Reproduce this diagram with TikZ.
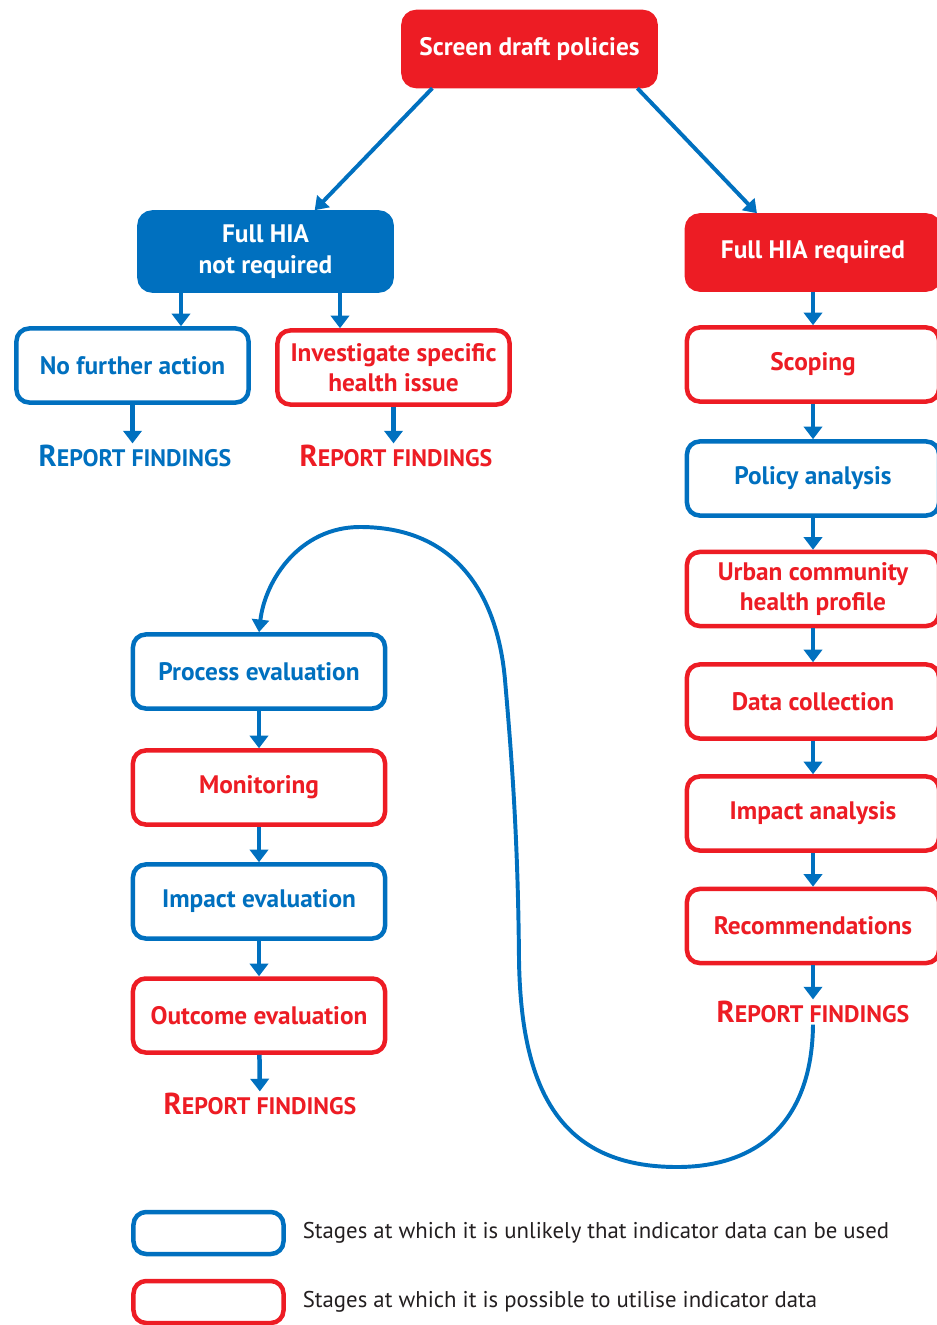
\documentclass[tikz,border=0pt]{standalone}
\usepackage{fontspec}
\setmainfont{PT Sans}
\usepackage{tikz}
\usetikzlibrary{calc,positioning,arrows.meta}
\definecolor{hblue}{HTML}{0070BF}
\definecolor{hred}{HTML}{ED1C24}
\definecolor{ink}{HTML}{231F20}
\tikzset{
  box/.style={rounded corners=9pt, line width=3.2pt, minimum width=6.3cm, minimum height=1.85cm, align=center, inner sep=2pt, font=\fontsize{18}{21.5}\selectfont\bfseries},
  bbox/.style={box, draw=hblue, fill=white, text=hblue},
  rbox/.style={box, draw=hred, fill=white, text=hred},
  bfill/.style={box, draw=hblue, fill=hblue, text=white},
  rfill/.style={box, draw=hred, fill=hred, text=white},
  arr/.style={draw=hblue, line width=3.2pt, -{Triangle[width=13pt,length=9pt]}},
  darr/.style={draw=hblue, line width=2.8pt, -{Triangle[width=12pt,length=9pt]}},
  rep/.style={inner sep=1pt, font=\fontsize{17}{20}\selectfont\bfseries},
  leg/.style={inner sep=0pt, text=ink, font=\fontsize{16.2}{19}\selectfont}
}
\newcommand{\repf}{{\fontsize{21.5}{22}\selectfont R}EPORT FINDINGS}

\begin{document}
\begin{tikzpicture}[x=0.025cm, y=-0.025cm]
  \useasboundingbox (0,0) rectangle (936,1325);

  % top
  \node[rfill] (scr) at (529.5,49) {Screen draft policies};
  \node[bfill, minimum height=1.95cm] (nhr) at (265.5,251.5) {Full HIA\\not required};
  \node[rfill] (hr) at (813,252.5) {Full HIA required};
  \draw[darr] (scr.202) -- (nhr.40);
  \draw[darr] (scr.-20) -- (hr.145);

  % left branch
  \node[bbox, minimum width=5.8cm] (nfa) at (132.5,365.5) {No further action};
  \node[rbox, minimum width=5.8cm] (ish) at (393.5,367.5) {Investigate specific\\health issue};
  \node[rep, text=hblue] (rf1) at (135,456) {\repf};
  \node[rep, text=hred] (rf2) at (396,456) {\repf};
  \coordinate (kl) at (181,0);
  \coordinate (kr) at (340,0);
  \draw[arr] (nhr.south -| kl) -- (nfa.north -| kl);
  \draw[arr] (nhr.south -| kr) -- (ish.north -| kr);
  \draw[arr] (nfa.south) -- (nfa.south |- rf1.north);
  \draw[arr] (ish.south) -- (ish.south |- rf2.north);

  % full HIA column
  \node[rbox] (sco) at (813,364.5) {Scoping};
  \node[bbox] (pa) at (813,478.5) {Policy analysis};
  \node[rbox] (uch) at (813,589) {Urban community\\health profile};
  \node[rbox] (dc) at (813,701.5) {Data collection};
  \node[rbox] (ia) at (813,813.5) {Impact analysis};
  \node[rbox] (rec) at (813,926) {Recommendations};
  \node[rep, text=hred] (rf3) at (813,1012) {\repf};
  \foreach \a/\b in {hr/sco, sco/pa, pa/uch, uch/dc, dc/ia, ia/rec, rec/rf3}
    \draw[arr] (\a) -- (\b);

  % evaluation column
  \node[bbox] (pe) at (259,671.5) {Process evaluation};
  \node[rbox] (mon) at (259,787.5) {Monitoring};
  \node[bbox] (ie) at (259,901.5) {Impact evaluation};
  \node[rbox] (oe) at (259,1015.5) {Outcome evaluation};
  \node[rep, text=hred] (rf4) at (260,1104) {\repf};
  \foreach \a/\b in {pe/mon, mon/ie, ie/oe, oe/rf4}
    \draw[arr] (\a) -- (\b);

  % loop back
  \draw[darr] (rf3.south) .. controls (812,1120) and (760,1167) .. (677,1167)
    .. controls (560,1167) and (521,1090) .. (519,960)
    .. controls (518,840) and (512,760) .. (505,680)
    .. controls (498,600) and (460,527) .. (360,527)
    .. controls (300,527) and (265,580) .. (pe.north);

  % legend
  \node[bbox, minimum width=3.75cm, minimum height=1.05cm] (lg1) at (208.5,1233) {};
  \node[rbox, minimum width=3.75cm, minimum height=1.05cm] (lg2) at (208.5,1302) {};
  \node[leg, right=0.42cm of lg1] (lt1) {Stages at which it is unlikely that indicator data can be used};
  \node[leg, right=0.42cm of lg2] (lt2) {Stages at which it is possible to utilise indicator data};
\end{tikzpicture}
\end{document}
